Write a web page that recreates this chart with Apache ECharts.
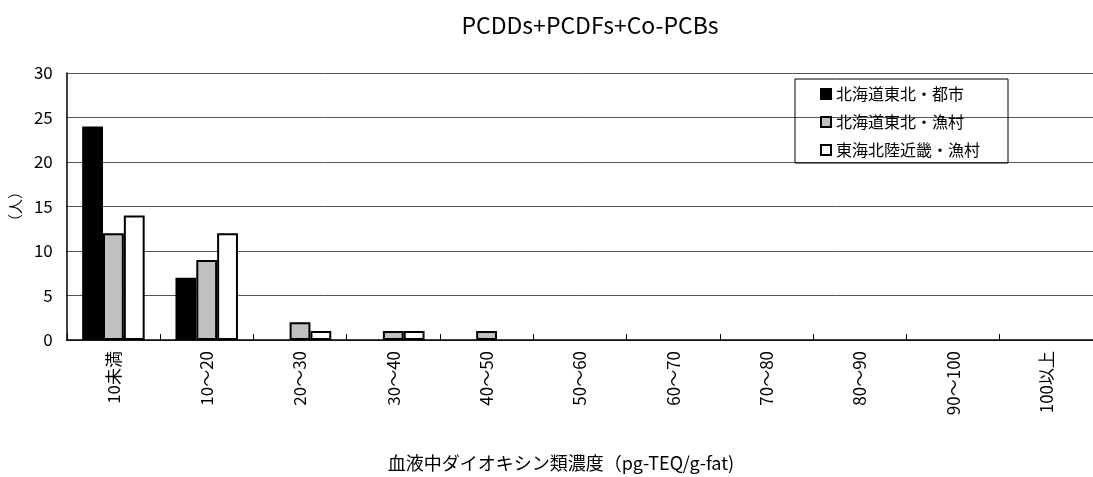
<!DOCTYPE html>
<html><head><meta charset="utf-8">
<script src="https://cdn.jsdelivr.net/npm/echarts@6/dist/echarts.min.js"></script>
<style>html,body{margin:0;padding:0;background:#fff}#c{width:1093px;height:477px}</style>
</head><body><div id="c"></div>
<script>
const categories = ['10未満','10～20','20～30','30～40','40～50','50～60','60～70','70～80','80～90','90～100','100以上'];
const seriesNames = ['北海道東北・都市','北海道東北・漁村','東海北陸近畿・漁村'];
const urbanHokkaido = [24,7,0,0,0,0,0,0,0,0,0];
const fishingHokkaido = [12,9,2,1,1,0,0,0,0,0,0];
const fishingTokai = [14,12,1,1,0,0,0,0,0,0,0];
const yTicks = [0,5,10,15,20,25,30];

const cjk = '"Noto Sans CJK JP", sans-serif';
const colors = ['#000000','#c0c0c0','#ffffff'];
const datas = [urbanHokkaido, fishingHokkaido, fishingTokai];

const chart = echarts.init(document.getElementById('c'));
chart.setOption({
  animation: false,
  backgroundColor: '#fff',
  title: {
    text: 'PCDDs+PCDFs+Co-PCBs',
    left: 585, top: 9, textAlign: 'center',
    textStyle: {fontFamily: cjk, fontSize: 23, fontWeight: 'normal', color: '#000'}
  },
  legend: {
    orient: 'vertical',
    left: 795, top: 79,
    borderColor: '#000', borderWidth: 1,
    padding: [7, 28, 5, 25],
    itemGap: 12,
    itemWidth: 10, itemHeight: 10,
    icon: 'rect',
    textStyle: {fontFamily: cjk, fontSize: 16, lineHeight: 16, color: '#000'},
    data: seriesNames
  },
  grid: {left: 66, right: -7, top: 73, bottom: 133, containLabel: false},
  xAxis: {
    type: 'category',
    data: categories,
    name: '血液中ダイオキシン類濃度（pg-TEQ/g-fat)',
    nameLocation: 'middle',
    nameGap: 114,
    nameTextStyle: {fontFamily: cjk, fontSize: 18, color: '#000', verticalAlign: 'top', padding: [0, 38, 0, 0]},
    axisLine: {lineStyle: {color: '#000', width: 1.5}},
    axisTick: {show: true, length: 6, inside: true, lineStyle: {color: '#000'}},
    axisLabel: {rotate: 90, fontFamily: cjk, fontSize: 17, color: '#000', margin: 11, interval: 0}
  },
  yAxis: {
    type: 'value',
    min: 0, max: 30, interval: 5,
    name: '（人）',
    nameLocation: 'middle',
    nameGap: 36,
    nameRotate: 90,
    nameTextStyle: {fontFamily: cjk, fontSize: 15, color: '#000'},
    axisLine: {show: true, lineStyle: {color: '#000', width: 1.5}},
    axisTick: {show: false},
    axisLabel: {fontFamily: cjk, fontSize: 17, color: '#000', margin: 14,
      formatter: v => yTicks.includes(v) ? String(v) : ''},
    splitLine: {show: true, lineStyle: {color: '#555', width: 1}}
  },
  series: datas.map((d, i) => ({
    name: seriesNames[i],
    type: 'bar',
    data: d.map(v => v === 0 ? '-' : v),
    barGap: '0%',
    barCategoryGap: '33%',
    itemStyle: {color: colors[i], borderColor: '#000', borderWidth: 2}
  }))
});
</script></body></html>
